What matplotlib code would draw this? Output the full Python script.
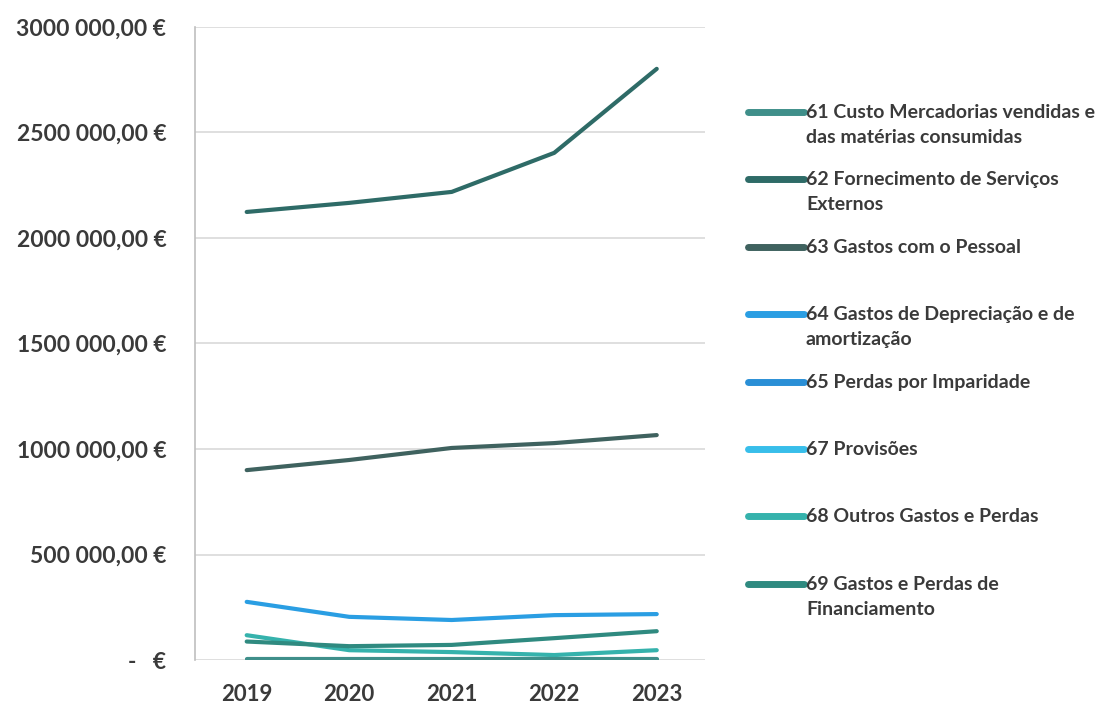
import matplotlib
matplotlib.use("Agg")
import matplotlib.pyplot as plt
from matplotlib.lines import Line2D
from matplotlib.ticker import FuncFormatter

plt.rcParams['font.family'] = ['Lato', 'DejaVu Sans']

years = ['2019', '2020', '2021', '2022', '2023']

series_names = [
    '61 Custo Mercadorias vendidas e\ndas matérias consumidas',
    '62 Fornecimento de Serviços\nExternos',
    '63 Gastos com o Pessoal',
    '64 Gastos de Depreciação e de\namortização',
    '65 Perdas por Imparidade',
    '67 Provisões',
    '68 Outros Gastos e Perdas',
    '69 Gastos e Perdas de\nFinanciamento',
]

custo_mercadorias = [6000, 6000, 6000, 6000, 6000]
fornecimento_servicos = [2123000, 2166000, 2218000, 2403000, 2801000]
gastos_pessoal = [900000, 948000, 1005000, 1028000, 1066000]
depreciacao = [276000, 205000, 190000, 213000, 218000]
imparidade = [0, 0, 0, 0, 0]
provisoes = [0, 0, 0, 0, 0]
outros_gastos = [118000, 47000, 38000, 24000, 47000]
financiamento = [88000, 66000, 72000, 104000, 137000]

values = [custo_mercadorias, fornecimento_servicos, gastos_pessoal, depreciacao,
          imparidade, provisoes, outros_gastos, financiamento]
colors = ['#3f8f8a', '#2e6b67', '#3f625f', '#2a9ee3',
          '#2a8fd6', '#38beea', '#35b2ac', '#2f8a80']
# zero-valued series go underneath, the rest on top
zorders = [6, 5, 5, 5, 3, 3, 5, 5]

fig = plt.figure(figsize=(10.98, 7.06), dpi=100)
ax = fig.add_axes([0.178, 0.065, 0.464, 0.897])

x = list(range(len(years)))
for vals, col, z in zip(values, colors, zorders):
    ax.plot(x, vals, color=col, lw=3, solid_capstyle='round', zorder=z)

ax.set_xlim(-0.5, 4.47)
ax.set_ylim(0, 3000000)
ax.set_yticks([0, 500000, 1000000, 1500000, 2000000, 2500000, 3000000])
ax.set_xticks(x)
ax.set_xticklabels(years)


def euro(v, pos):
    if v == 0:
        return '-   €'
    whole = int(round(v))
    thousands = whole // 1000
    rest = whole % 1000
    return f'{thousands} {rest:03d},00 €'


ax.yaxis.set_major_formatter(FuncFormatter(euro))
ax.grid(axis='y', color='#d9d9d9', lw=1.2)
ax.set_axisbelow(True)
for side in ['top', 'right', 'bottom']:
    ax.spines[side].set_visible(False)
ax.spines['left'].set_color('#bfbfbf')
ax.spines['left'].set_linewidth(1.2)
ax.tick_params(axis='both', length=0, labelcolor='#3a3a3a')
ax.tick_params(axis='y', pad=21, labelsize=16.5)
ax.tick_params(axis='x', pad=17, labelsize=16)
for lab in ax.get_xticklabels() + ax.get_yticklabels():
    lab.set_fontweight('bold')

# legend on the right, one entry every ~67 px
W, H = 1098, 706
top_y = 112
step = 67.4
for i, (name, col) in enumerate(zip(series_names, colors)):
    yy = 1 - (top_y + i * step) / H
    fig.add_artist(Line2D([748 / W, 804 / W], [yy, yy], color=col, lw=5,
                          solid_capstyle='round', transform=fig.transFigure))
    fig.text(806 / W, yy + 8 / H, name, fontsize=14, fontweight='bold',
             color='#3a3a3a', va='top', ha='left', linespacing=1.55)

fig.savefig('out.png', dpi=100, facecolor='white')
